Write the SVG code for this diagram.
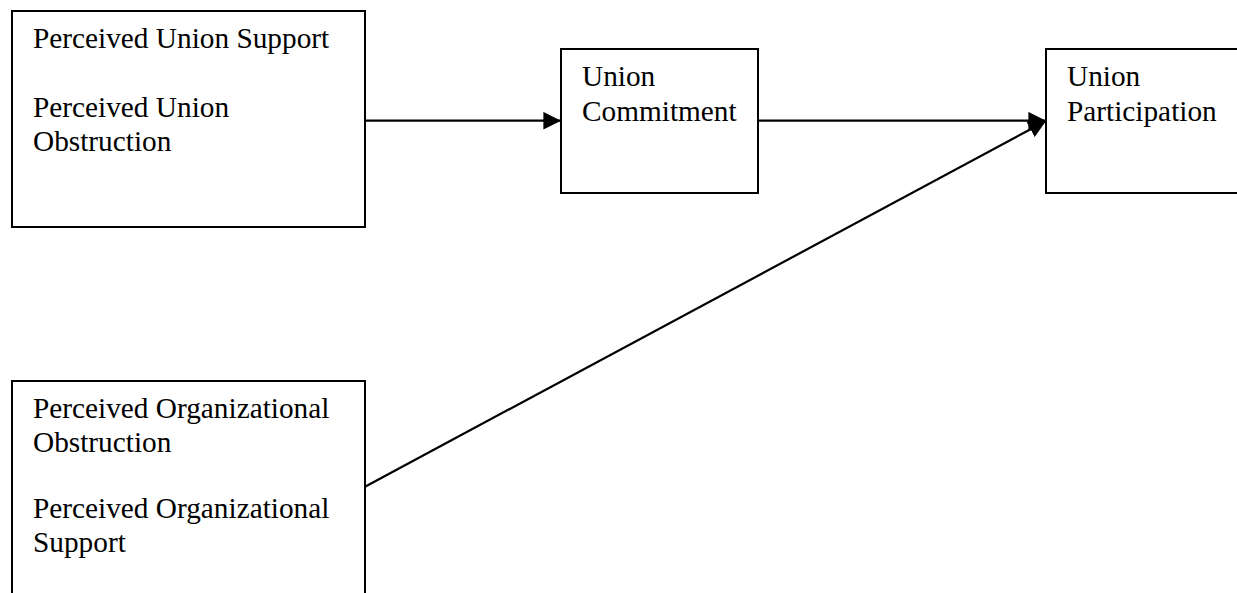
<svg xmlns="http://www.w3.org/2000/svg" width="1237" height="593" viewBox="0 0 1237 593">
<style>
.box{fill:#fff;stroke:#000;stroke-width:2}
.t{font-family:"Liberation Serif","Times New Roman",serif;font-size:29.3px;fill:#000}
.c{stroke:#000;stroke-width:2.2;fill:none}
</style>
<defs>
<marker id="ah" viewBox="0 0 10 10" refX="10" refY="5" markerWidth="8" markerHeight="8" markerUnits="strokeWidth" orient="auto">
<path d="M0,0 L10,5 L0,10 Z" fill="#000"/>
</marker>
</defs>
<rect width="1237" height="593" fill="#fff"/>
<g id="n1">
<rect class="box" x="12" y="11" width="353" height="216"/>
<text class="t" x="33" y="48">Perceived Union Support</text>
<text class="t" x="33" y="116.7">Perceived Union</text>
<text class="t" x="33" y="150.5">Obstruction</text>
</g>
<g id="n2">
<rect class="box" x="561" y="49" width="197" height="144"/>
<text class="t" x="582" y="86">Union</text>
<text class="t" x="582" y="120.5">Commitment</text>
</g>
<g id="n3">
<rect class="box" x="1046" y="49" width="200" height="144"/>
<text class="t" x="1067" y="86">Union</text>
<text class="t" x="1067" y="120.5">Participation</text>
</g>
<g id="n4">
<rect class="box" x="12" y="381" width="353" height="230"/>
<text class="t" x="33" y="417.7">Perceived Organizational</text>
<text class="t" x="33" y="451.7">Obstruction</text>
<text class="t" x="33" y="518">Perceived Organizational</text>
<text class="t" x="33" y="552">Support</text>
</g>
<g id="connectors">
<line class="c" x1="365" y1="120.7" x2="561" y2="120.7" marker-end="url(#ah)"/>
<line class="c" x1="758" y1="120.7" x2="1046" y2="120.7" marker-end="url(#ah)"/>
<line class="c" x1="365" y1="486.7" x2="1046" y2="121" marker-end="url(#ah)"/>
</g>
</svg>
